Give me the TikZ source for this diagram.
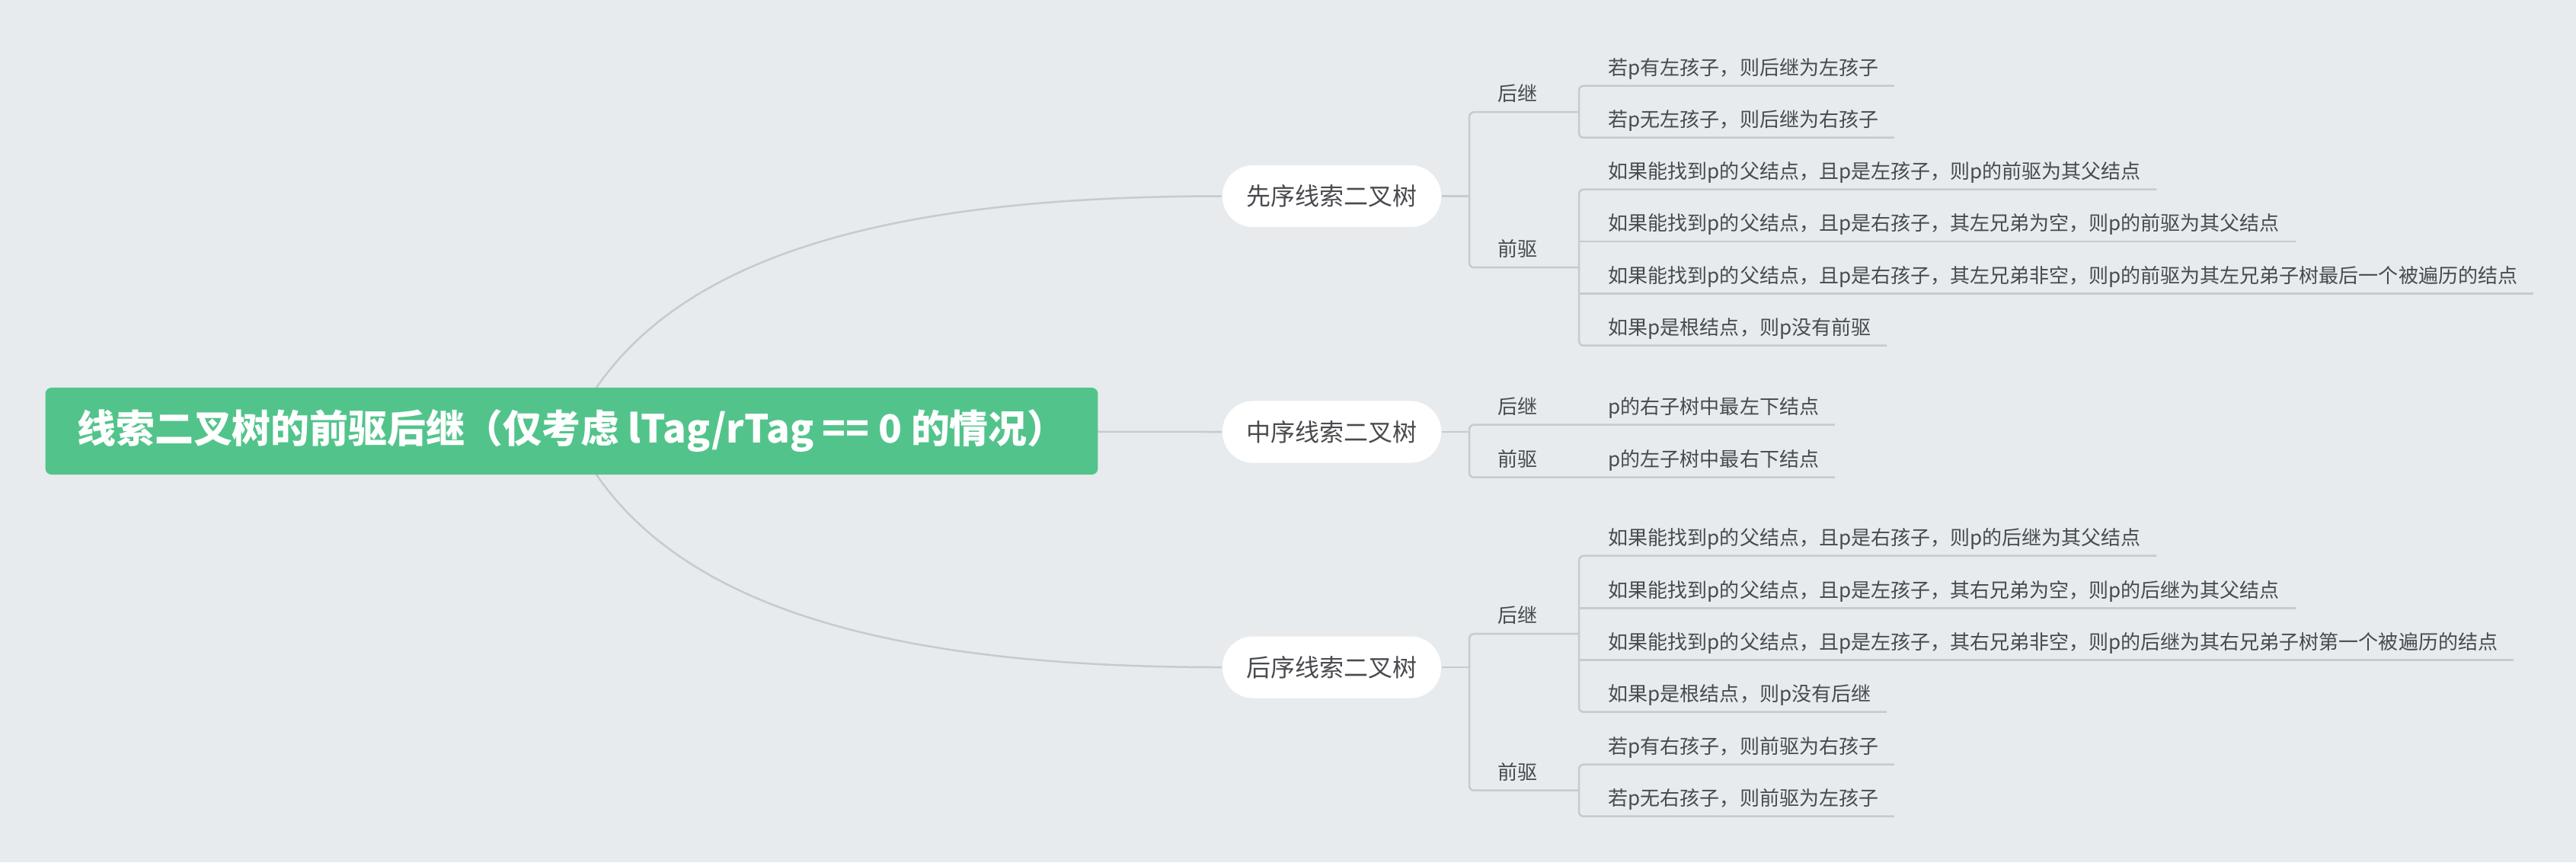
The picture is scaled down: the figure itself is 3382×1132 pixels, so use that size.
\documentclass[tikz,border=0pt]{standalone}
\usepackage{fontspec}
\setmainfont{Noto Sans CJK SC}
\usepackage{tikz}
\usetikzlibrary{calc}
\definecolor{bgc}{RGB}{231,235,238}
\definecolor{rootgreen}{RGB}{82,196,139}
\definecolor{linegray}{RGB}{200,202,204}
\definecolor{txtgray}{RGB}{72,74,78}
\pgfdeclarelayer{back}
\pgfsetlayers{back,main}

\begin{document}
\begin{tikzpicture}[x=0.01cm,y=-0.01cm,
  line/.style={draw=linegray,line width=0.25mm},
  rootbox/.style={fill=rootgreen,text=white,rounded corners=0.8mm,minimum width=13.81cm,minimum height=1.14cm,inner sep=0pt,font=\fontsize{14.45pt}{16pt}\selectfont\bfseries},
  topic/.style={fill=white,text=txtgray,rounded corners=4mm,minimum width=2.87cm,minimum height=0.81cm,inner sep=0pt,font=\fontsize{9.1pt}{11pt}\selectfont},
  lbl/.style={anchor=base west,text=txtgray,inner xsep=0pt,inner ysep=1.1mm,text depth=0.3mm,font=\fontsize{7.4pt}{9pt}\selectfont},
  leaf/.style={lbl,inner xsep=2mm}]
\useasboundingbox (0,0) rectangle (3382,1132);
\node[rootbox] (root) at (750.5,566) {线索二叉树的前驱后继（仅考虑 lTag/rTag == 0 的情况）};
\node[topic] (pre) at (1748.5,257.5) {先序线索二叉树};
\node[topic] (in) at (1748.5,567) {中序线索二叉树};
\node[topic] (post) at (1748.5,876) {后序线索二叉树};
\coordinate (colA) at (1929,0);
\coordinate (colB) at (2073,0);
\node[lbl] (preS) at (1966,132.5) {后继};
\node[lbl] (preP) at (1966,336.5) {前驱};
\node[leaf] (preS1) at (2091,98) {若p有左孩子，则后继为左孩子};
\node[leaf] (preS2) at (2091,166) {若p无左孩子，则后继为右孩子};
\node[leaf] (preP1) at (2091,234) {如果能找到p的父结点，且p是左孩子，则p的前驱为其父结点};
\node[leaf] (preP2) at (2091,302.5) {如果能找到p的父结点，且p是右孩子，其左兄弟为空，则p的前驱为其父结点};
\node[leaf] (preP3) at (2091,371) {如果能找到p的父结点，且p是右孩子，其左兄弟非空，则p的前驱为其左兄弟子树最后一个被遍历的结点};
\node[leaf] (preP4) at (2091,439) {如果p是根结点，则p没有前驱};
\node[lbl] (inS) at (1966,543) {后继};
\node[lbl] (inP) at (1966,612) {前驱};
\node[leaf] (inS1) at (2091,543) {p的右子树中最左下结点};
\node[leaf] (inP1) at (2091,612) {p的左子树中最右下结点};
\node[lbl] (postS) at (1966,817.5) {后继};
\node[lbl] (postP) at (1966,1023) {前驱};
\node[leaf] (postS1) at (2091,715) {如果能找到p的父结点，且p是右孩子，则p的后继为其父结点};
\node[leaf] (postS2) at (2091,784) {如果能找到p的父结点，且p是左孩子，其右兄弟为空，则p的后继为其父结点};
\node[leaf] (postS3) at (2091,852) {如果能找到p的父结点，且p是左孩子，其右兄弟非空，则p的后继为其右兄弟子树第一个被遍历的结点};
\node[leaf] (postS4) at (2091,920) {如果p是根结点，则p没有后继};
\node[leaf] (postP1) at (2091,989) {若p有右孩子，则前驱为右孩子};
\node[leaf] (postP2) at (2091,1057) {若p无右孩子，则前驱为左孩子};
\begin{pgfonlayer}{back}
\fill[bgc] (0,0) rectangle (3382,1132);
\draw[line] (root.center) .. controls +(105,-227) and +(-450,0) .. (pre.west);
\draw[line] (root.center) -- (in.west);
\draw[line] (root.center) .. controls +(105,227) and +(-450,0) .. (post.west);
\draw[line] (pre.east) -- (pre.east -| colA);
\draw[line] (in.east) -- (in.east -| colA);
\draw[line] (post.east) -- (post.east -| colA);
\draw[line,rounded corners=0.6mm] (preS.south -| colB) -- (preS.south -| colA) -- (preP.south -| colA) -- (preP.south -| colB);
\draw[line,rounded corners=0.6mm] (inS1.south east) -- (inS.south -| colA) -- (inP.south -| colA) -- (inP1.south east);
\draw[line,rounded corners=0.6mm] (postS.south -| colB) -- (postS.south -| colA) -- (postP.south -| colA) -- (postP.south -| colB);
\draw[line,rounded corners=0.6mm] (preS1.south east) -- (preS1.south -| colB) -- (preS2.south -| colB) -- (preS2.south east);
\draw[line,rounded corners=0.6mm] (preP1.south east) -- (preP1.south -| colB) -- (preP4.south -| colB) -- (preP4.south east);
\draw[line] (preP2.south -| colB) -- (preP2.south east);
\draw[line] (preP3.south -| colB) -- (preP3.south east);
\draw[line,rounded corners=0.6mm] (postS1.south east) -- (postS1.south -| colB) -- (postS4.south -| colB) -- (postS4.south east);
\draw[line] (postS2.south -| colB) -- (postS2.south east);
\draw[line] (postS3.south -| colB) -- (postS3.south east);
\draw[line,rounded corners=0.6mm] (postP1.south east) -- (postP1.south -| colB) -- (postP2.south -| colB) -- (postP2.south east);
\end{pgfonlayer}
\end{tikzpicture}
\end{document}
